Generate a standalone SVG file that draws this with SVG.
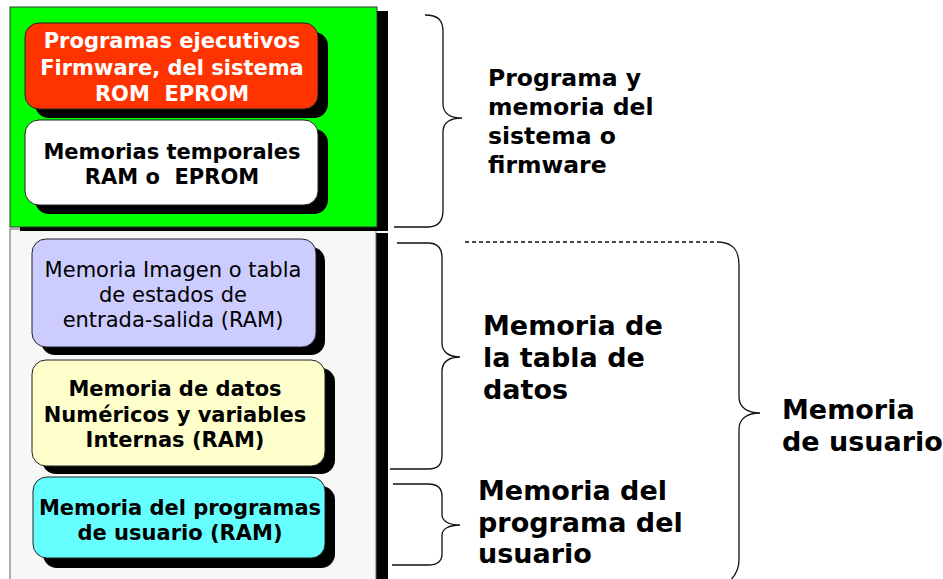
<svg xmlns="http://www.w3.org/2000/svg" width="943" height="579" viewBox="0 0 943 579">
<style>
.shadow{fill:#000}
.node{stroke:#222;stroke-width:1}
.t{font-family:"DejaVu Sans","Verdana",sans-serif;font-weight:bold;text-anchor:middle;font-size:21px;fill:#000;white-space:pre}
.tn{font-weight:normal}
.lbl{font-family:"DejaVu Sans","Verdana",sans-serif;font-weight:bold;font-size:27px;fill:#000}
.brace{fill:none;stroke:#111;stroke-width:1.3}
</style>
<rect width="943" height="579" fill="#fff"/>
<g id="panel-lower">
<rect class="shadow" x="20" y="233" width="368" height="360"/>
<rect x="10" y="229" width="366" height="360" fill="#f7f7f7" stroke="#666" stroke-width="1"/>
</g>
<g id="panel-upper">
<rect class="shadow" x="20" y="11" width="368" height="220"/>
<rect x="10" y="7" width="367" height="220" fill="#00ff00" stroke="#333" stroke-width="1"/>
</g>
<g id="node-firmware">
<rect class="shadow" x="35" y="32" width="293" height="86" rx="14"/>
<rect class="node" x="25" y="23" width="293" height="86" rx="14" fill="#ff3300"/>
<text class="t" x="172" y="48" style="fill:#fff">Programas ejecutivos</text>
<text class="t" x="172" y="75" style="fill:#fff">Firmware, del sistema</text>
<text class="t" x="172" y="101" style="fill:#fff" xml:space="preserve">ROM  EPROM</text>
</g>
<g id="node-temporales">
<rect class="shadow" x="35" y="129" width="293" height="85" rx="14"/>
<rect class="node" x="25" y="120" width="293" height="85" rx="14" fill="#fff"/>
<text class="t" x="172" y="159">Memorias temporales</text>
<text class="t" x="172" y="184" xml:space="preserve">RAM o  EPROM</text>
</g>
<g id="node-imagen">
<rect class="shadow" x="41" y="247" width="284" height="108" rx="14"/>
<rect class="node" x="32" y="239" width="284" height="108" rx="14" fill="#ccccff"/>
<text class="t tn" x="173" y="277">Memoria Imagen o tabla</text>
<text class="t tn" x="173" y="302">de estados de</text>
<text class="t tn" x="173" y="327">entrada-salida (RAM)</text>
</g>
<g id="node-datos">
<rect class="shadow" x="42" y="368" width="293" height="106" rx="14"/>
<rect class="node" x="32" y="360" width="293" height="106" rx="14" fill="#ffffcc"/>
<text class="t" x="175" y="396">Memoria de datos</text>
<text class="t" x="175" y="422">Numéricos y variables</text>
<text class="t" x="175" y="447">Internas (RAM)</text>
</g>
<g id="node-programa">
<rect class="shadow" x="43" y="486" width="292" height="82" rx="14"/>
<rect class="node" x="33" y="477" width="292" height="81" rx="14" fill="#66ffff"/>
<text class="t" x="180" y="515">Memoria del programas</text>
<text class="t" x="180" y="540">de usuario (RAM)</text>
</g>
<g id="connectors">
<path class="brace" d="M425,15 C438,15 443,20 443,32 L443,104 C443,113 450,118 462,118 C450,118 443,123 443,132 L443,210 C443,222 438,227 428,227 L394,227"/>
<path class="brace" d="M397,243 L428,243 C438,243 442,248 442,258 L442,343 C442,352 449,357 460,357 C449,357 442,362 442,371 L442,455 C442,465 438,469 428,469 L390,469"/>
<path class="brace" d="M393,484 L428,484 C438,484 442,488 442,496 L442,515 C442,521 449,525 460,525 C449,525 442,529 442,535 L442,554 C442,561 438,565 428,565 L392,565"/>
<path class="brace" d="M465,242 L717,242" stroke-dasharray="4,3"/>
<path class="brace" d="M717,242 C733,242 739,250 739,265 L739,397 C739,407 747,413 760,413 C747,413 739,419 739,429 L739,560 C739,570 735,576 729,582"/>
</g>
<g id="labels">
<text class="lbl" style="font-size:23.5px" x="488" y="86">Programa y</text>
<text class="lbl" style="font-size:23.5px" x="488" y="115">memoria del</text>
<text class="lbl" style="font-size:23.5px" x="488" y="144">sistema o</text>
<text class="lbl" style="font-size:23.5px" x="488" y="173">firmware</text>
<text class="lbl" x="483" y="335">Memoria de</text>
<text class="lbl" x="483" y="367">la tabla de</text>
<text class="lbl" x="483" y="399">datos</text>
<text class="lbl" x="478" y="500">Memoria del</text>
<text class="lbl" x="478" y="532">programa del</text>
<text class="lbl" x="478" y="563">usuario</text>
<text class="lbl" x="782" y="419">Memoria</text>
<text class="lbl" x="782" y="451">de usuario</text>
</g>
</svg>
